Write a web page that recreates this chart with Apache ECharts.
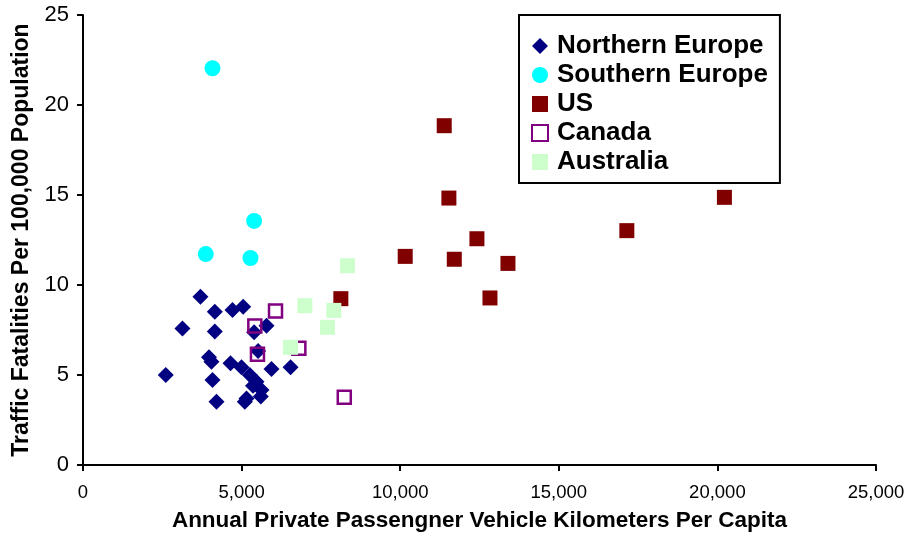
<!DOCTYPE html>
<html>
<head>
<meta charset="utf-8">
<script src="https://cdn.jsdelivr.net/npm/echarts@6/dist/echarts.min.js"></script>
<style>html,body{margin:0;padding:0;background:#fff}#c{width:910px;height:537px}</style>
</head>
<body>
<div id="c"></div>
<script>
const xTicks = [0, 5000, 10000, 15000, 20000, 25000];
const yTicks = [0, 5, 10, 15, 20, 25];

const northernEurope = [
  [3703, 9.35], [4155, 8.52], [4713, 8.61], [5050, 8.79], [3135, 7.59],
  [4155, 7.41], [5785, 7.74], [5394, 7.37], [3972, 5.98], [4050, 5.74],
  [4650, 5.65], [4997, 5.43], [5521, 6.33], [5943, 5.33], [6543, 5.43],
  [2609, 5.0], [4082, 4.72], [5259, 5.0], [5470, 4.63], [5628, 4.17],
  [5606, 3.8], [5155, 3.7], [4208, 3.52], [5102, 3.52], [5360, 4.4]
];
const southernEurope = [
  [4082, 22.04], [5394, 13.56], [3871, 11.72], [5280, 11.5]
];
const us = [
  [11388, 18.85], [11535, 14.83], [20221, 14.87], [17145, 13.02], [12419, 12.57],
  [10158, 11.59], [11705, 11.43], [13397, 11.2], [12830, 9.28], [8129, 9.24]
];
const canada = [
  [6069, 8.56], [5417, 7.72], [5500, 6.15], [6805, 6.48], [8237, 3.76]
];
const australia = [
  [8340, 11.07], [7908, 8.59], [6994, 8.85], [7708, 7.65], [6543, 6.54]
];

const chart = echarts.init(document.getElementById('c'));
const fontSans = "'Liberation Sans', Arial, sans-serif";

chart.setOption({
  animation: false,
  backgroundColor: '#ffffff',
  grid: { left: 83, right: 34, top: 15, bottom: 72, containLabel: false },
  xAxis: {
    type: 'value',
    min: xTicks[0], max: xTicks[xTicks.length - 1], interval: 5000,
    name: 'Annual Private Passengner Vehicle Kilometers Per Capita',
    nameLocation: 'middle', nameGap: 44,
    nameTextStyle: { fontFamily: fontSans, fontWeight: 'bold', fontSize: 22.5, color: '#000' },
    axisLine: { show: true, lineStyle: { color: '#000', width: 2 } },
    axisTick: { show: true, length: 6, lineStyle: { color: '#000', width: 2 } },
    splitLine: { show: false },
    axisLabel: {
      margin: 18, color: '#000', fontFamily: fontSans, fontSize: 18.5,
      formatter: v => v.toLocaleString('en-US')
    }
  },
  yAxis: {
    type: 'value',
    min: yTicks[0], max: yTicks[yTicks.length - 1], interval: 5,
    name: 'Traffic Fatalities Per 100,000 Population',
    nameLocation: 'middle', nameGap: 49,
    nameTextStyle: { fontFamily: fontSans, fontWeight: 'bold', fontSize: 23, color: '#000' },
    axisLine: { show: true, lineStyle: { color: '#000', width: 2 } },
    axisTick: { show: true, length: 6, lineStyle: { color: '#000', width: 2 } },
    splitLine: { show: false },
    axisLabel: { margin: 14, color: '#000', fontFamily: fontSans, fontSize: 22 }
  },
  legend: {
    orient: 'vertical',
    left: 519, top: 15,
    padding: [18, 12, 8, 12],
    itemGap: 3,
    itemWidth: 16, itemHeight: 16,
    borderColor: '#000', borderWidth: 2,
    backgroundColor: '#fff',
    textStyle: { fontFamily: fontSans, fontWeight: 'bold', fontSize: 26, color: '#000', lineHeight: 25, padding: [0, 0, 0, 4] },
    data: ['Northern Europe', 'Southern Europe', 'US', 'Canada', 'Australia']
  },
  series: [
    {
      name: 'Northern Europe', type: 'scatter', data: northernEurope,
      symbol: 'diamond', symbolSize: 16,
      itemStyle: { color: '#000080', opacity: 1 }
    },
    {
      name: 'Southern Europe', type: 'scatter', data: southernEurope,
      symbol: 'circle', symbolSize: 16,
      itemStyle: { color: '#00FFFF', opacity: 1 }
    },
    {
      name: 'US', type: 'scatter', data: us,
      symbol: 'rect', symbolSize: 15,
      itemStyle: { color: '#800000', opacity: 1 }
    },
    {
      name: 'Canada', type: 'scatter', data: canada,
      symbol: 'rect', symbolSize: 13,
      itemStyle: { color: 'rgba(255,255,255,0)', borderColor: '#800080', borderWidth: 2.5, opacity: 1 }
    },
    {
      name: 'Australia', type: 'scatter', data: australia,
      symbol: 'rect', symbolSize: 15,
      itemStyle: { color: '#CCFFCC', opacity: 1 }
    }
  ]
});
</script>
</body>
</html>
